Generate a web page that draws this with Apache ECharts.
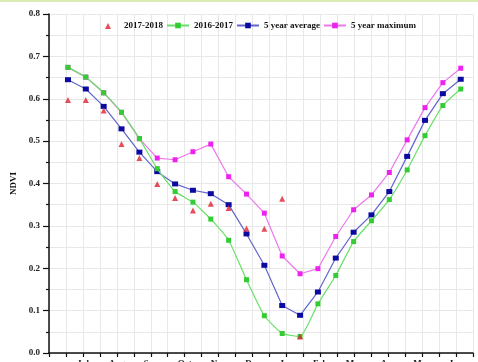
<!DOCTYPE html>
<html>
<head>
<meta charset="utf-8">
<script src="https://cdn.jsdelivr.net/npm/echarts@6/dist/echarts.min.js"></script>
<style>
html,body{margin:0;padding:0;background:#fff;}
#c{width:478px;height:362px;}
</style>
</head>
<body>
<div id="c"></div>
<script>
// x positions: days since Jun 1 (16-day composites)
var dayOffsets = [17, 33, 49, 65, 81, 97, 113, 129, 145, 161, 177, 193, 209, 225, 241, 257, 273, 289, 305, 321, 337, 353, 369];
var monthLabels = ['Jul','Aug','Sep','Oct','Nov','Dec','Jan','Feb','Mar','Apr','May','Jun'];
var yTicks = ['0.0','0.1','0.2','0.3','0.4','0.5','0.6','0.7','0.8'];

var s20172018 = [0.597, 0.597, 0.572, 0.493, 0.460, 0.399, 0.366, 0.336, 0.352, 0.342, 0.294, 0.293, 0.364, 0.039];
var s20162017 = [0.674, 0.651, 0.614, 0.568, 0.506, 0.435, 0.381, 0.356, 0.316, 0.266, 0.173, 0.088, 0.046, 0.039, 0.116, 0.183, 0.263, 0.312, 0.362, 0.432, 0.513, 0.584, 0.623];
var avg5 = [0.645, 0.623, 0.582, 0.529, 0.474, 0.428, 0.399, 0.384, 0.376, 0.350, 0.281, 0.207, 0.112, 0.089, 0.144, 0.224, 0.285, 0.326, 0.381, 0.464, 0.549, 0.612, 0.646];
var max5 = [0.674, 0.651, 0.614, 0.568, 0.506, 0.460, 0.456, 0.475, 0.493, 0.416, 0.375, 0.330, 0.229, 0.187, 0.199, 0.275, 0.338, 0.373, 0.426, 0.503, 0.579, 0.638, 0.672];

function pairs(vals){
  var out = [];
  for (var i = 0; i < vals.length; i++) out.push([dayOffsets[i], vals[i]]);
  return out;
}

var FONT = 'Liberation Serif';
var XINT = 15.2;
var TRI_ICON = 'path://M0,0L0,0.01M8,7L11,1L14,7ZM22,7L22,7.01';

var chart = echarts.init(document.getElementById('c'), null, {renderer:'canvas'});
chart.setOption({
  animation: false,
  backgroundColor: '#ffffff',
  graphic: [{type:'rect', left:0, top:0, shape:{width:478, height:2}, style:{fill:'#d8ecb4'}}],
  grid: {left: 49, right: 5, top: 14, bottom: 9, containLabel: false, outerBoundsMode: 'none'},
  legend: {
    left: 92, top: 16,
    itemWidth: 22, itemHeight: 7, itemGap: 3,
    data: [
      {name: '2017-2018', icon: TRI_ICON},
      '2016-2017', '5 year average', '5 year maximum'
    ],
    textStyle: {fontFamily: FONT, fontWeight: 'bold', fontSize: 9, color: '#111'}
  },
  xAxis: {
    type: 'value', min: 0, max: 380, interval: XINT,
    axisLine: {show: true, onZero: false, lineStyle: {color: '#111', width: 1.5}},
    axisTick: {show: true, inside: false, length: 4, lineStyle: {color: '#111', width: 1.2}},
    splitLine: {show: true, lineStyle: {color: '#e8e8e8', width: 1}},
    axisLabel: {
      margin: 6, fontFamily: FONT, fontWeight: 'bold', fontSize: 9, color: '#222',
      formatter: function(v){
        var idx = Math.round(v / XINT);
        if (idx >= 2 && idx % 2 === 0 && idx / 2 - 1 < monthLabels.length) return monthLabels[idx/2 - 1];
        return '';
      }
    }
  },
  yAxis: {
    type: 'value', min: 0, max: 0.8, interval: 0.1,
    name: 'NDVI', nameLocation: 'middle', nameGap: 18, nameRotate: 90,
    nameTextStyle: {fontFamily: FONT, fontWeight: 'bold', fontSize: 9, color: '#111'},
    axisLine: {show: true, lineStyle: {color: '#111', width: 1.5}},
    axisTick: {show: true, inside: false, length: 6, lineStyle: {color: '#111', width: 1.2}},
    minorTick: {show: true, splitNumber: 2, length: 3, lineStyle: {color: '#111', width: 1.2}},
    splitLine: {show: true, lineStyle: {color: '#e8e8e8', width: 1}},
    minorSplitLine: {show: true, lineStyle: {color: '#e8e8e8', width: 1}},
    axisLabel: {
      margin: 9, fontFamily: FONT, fontWeight: 'bold', fontSize: 9, color: '#222',
      formatter: function(v){ return yTicks[Math.round(v * 10)] || ''; }
    }
  },
  series: [
    {
      name: '5 year maximum', type: 'line', data: pairs(max5), z: 2,
      symbol: 'rect', symbolSize: [5, 5],
      itemStyle: {color: '#ee22ee'},
      lineStyle: {color: '#ee77ee', width: 1.2}
    },
    {
      name: '5 year average', type: 'line', data: pairs(avg5), z: 3,
      symbol: 'rect', symbolSize: [6, 5],
      itemStyle: {color: '#0a0aa0'},
      lineStyle: {color: '#6464cc', width: 1.2}
    },
    {
      name: '2016-2017', type: 'line', data: pairs(s20162017), z: 4,
      symbol: 'rect', symbolSize: [5, 5], smooth: 0.15,
      itemStyle: {color: '#33cc33'},
      lineStyle: {color: '#66e066', width: 1.2}
    },
    {
      name: '2017-2018', type: 'scatter', data: pairs(s20172018), z: 5,
      symbol: 'triangle', symbolSize: 6,
      itemStyle: {color: '#e02030'}
    }
  ]
});
</script>
</body>
</html>
